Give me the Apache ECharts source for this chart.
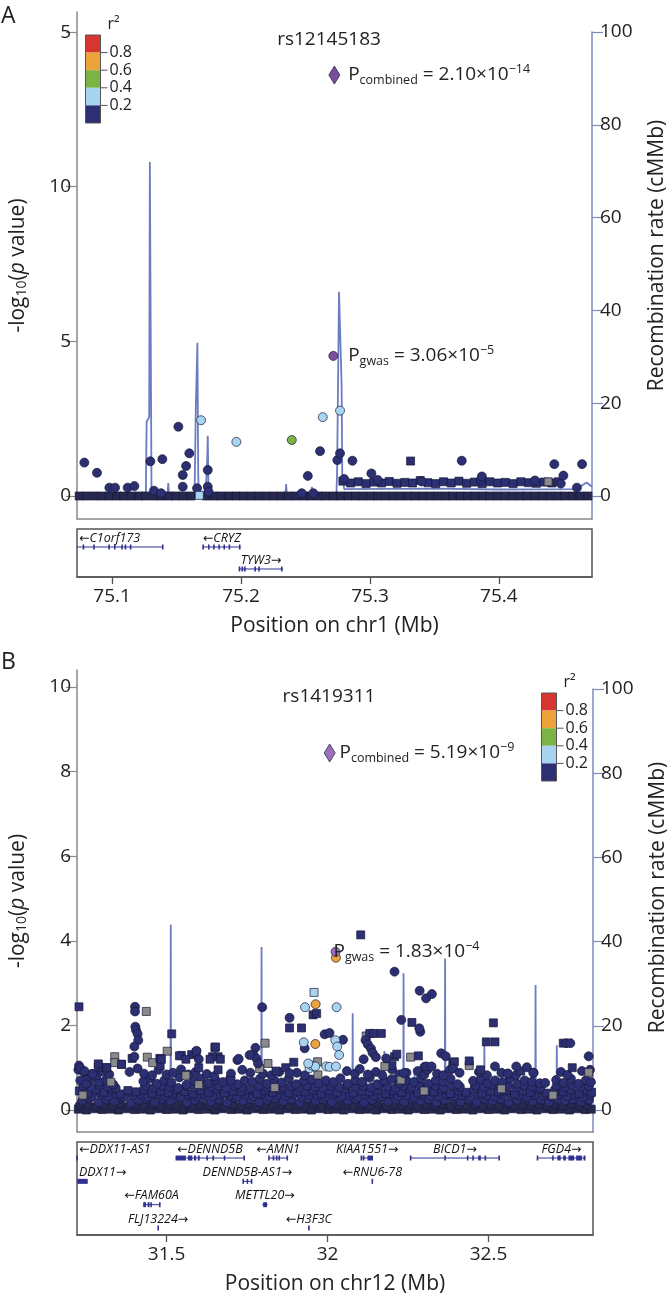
<!DOCTYPE html>
<html><head><meta charset="utf-8">
<script src="https://cdn.jsdelivr.net/npm/echarts@6/dist/echarts.min.js"></script>
<style>html,body{margin:0;padding:0;background:#fff}#c{width:667px;height:1297px}</style>
</head><body><div id="c"></div>
<script>
// ================= DATA =================
// ---- Panel A (chr1) ----
const xRangeA = [75.0728, 75.4722];
const xTicksA = [75.1, 75.2, 75.3, 75.4];
const yTicksA = [0, 5, 10, 15];
const yTickLabelsA = ['0', '5', '10', '5'];
const recTicks = [0, 20, 40, 60, 80, 100];
const aRecX = [75.0728,75.1262,75.1268,75.1288,75.1293,75.1300,75.1306,75.1430,75.1436,75.1442,75.1640,75.1650,75.1662,75.1668,75.1672,75.1725,75.1738,75.1742,75.1748,75.2345,75.2350,75.2355,75.2545,75.2550,75.2555,75.2740,75.2745,75.2760,75.2772,75.2780,75.2785,75.2800,75.3500,75.4000,75.4600,75.4680,75.4722];
const aRecY = [0.2,0.2,16,17,72,72,0.3,0.3,2.8,0.3,0.3,20,33,5,0.3,0.3,8,13,0.3,0.3,2.6,0.3,0.3,2,0.3,0.3,5,44,44.4,24,5,1.5,1.6,1.4,1.5,2.9,2];
const aRow0X = [75.0745,75.0800,75.0862,75.0918,75.0975,75.1035,75.1090,75.1150,75.1208,75.1262,75.1325,75.1380,75.1440,75.1495,75.1552,75.1612,75.1730,75.1790,75.1845,75.1905,75.1962,75.2020,75.2078,75.2135,75.2195,75.2252,75.2310,75.2368,75.2425,75.2485,75.2540,75.2600,75.2655,75.2715,75.2772,75.2830,75.2888,75.2945,75.3005,75.3060,75.3120,75.3178,75.3235,75.3295,75.3350,75.3410,75.3468,75.3525,75.3585,75.3640,75.3700,75.3758,75.3815,75.3875,75.3930,75.3990,75.4048,75.4105,75.4165,75.4220,75.4280,75.4338,75.4395,75.4455,75.4510,75.4570,75.4630,75.4690];
const aRow1Squares = [[75.2790,0.48],[75.2850,0.42],[75.2910,0.46],[75.2970,0.40],[75.3030,0.45],[75.3090,0.42],[75.3150,0.47],[75.3210,0.41],[75.3270,0.44],[75.3330,0.42],[75.3390,0.50],[75.3450,0.43],[75.3510,0.40],[75.3570,0.46],[75.3630,0.42],[75.3690,0.48],[75.3750,0.41],[75.3810,0.45],[75.3870,0.40],[75.3930,0.46],[75.3990,0.42],[75.4050,0.44],[75.4110,0.40],[75.4170,0.46],[75.4230,0.43],[75.4290,0.41],[75.4350,0.45],[75.4410,0.42],[75.4460,0.46]];
const aRow1Circles = [[75.2800,0.55],[75.3060,0.52],[75.3400,0.47],[75.3860,0.52],[75.4280,0.50],[75.4480,0.40]];
const aNavyCircles = [[75.0785,1.08],[75.0883,0.75],[75.0979,0.27],[75.1023,0.27],[75.1121,0.27],[75.1173,0.32],[75.1297,1.12],[75.1325,0.17],[75.1390,1.19],[75.1380,0.09],[75.1514,2.24],[75.1599,1.38],[75.1574,0.97],[75.1548,0.68],[75.1548,0.30],[75.1659,0.25],[75.1742,0.84],[75.1742,0.30],[75.1748,0.14],[75.2471,0.09],[75.2561,0.09],[75.2518,0.65],[75.2613,1.45],[75.2747,1.16],[75.2768,1.38],[75.2864,1.14],[75.3011,0.73],[75.3712,1.14],[75.3868,0.63],[75.4430,1.03],[75.4500,0.66],[75.4645,1.03],[75.4605,0.27]];
const aNavySquares = [[75.3315,1.13]];
const aGraySquares = [[75.4382,0.46]];
const aLightBlueCircles = [[75.1690,2.45],[75.1964,1.75],[75.2634,2.55],[75.2768,2.76]];
const aLightBlueSquares = [[75.1677,0.02]];
const aGreen = [[75.2394,1.81]];
const aLead = [[75.2716,4.53]];
const aCombined = [[75.2724,13.61]];
const geneNamesA = ['C1orf173','CRYZ','TYW3'];
const geneStrandA = [-1,-1,1];
const geneStartA = [75.05,75.1706,75.1985];
const geneEndA = [75.1395,75.1996,75.2326];
const geneRowA = [0,0,1];
const geneExonsA = [
  [[75.0778,75.0778],[75.0860,75.0860],[75.0977,75.0977],[75.1021,75.1021],[75.1077,75.1077],[75.1104,75.1104],[75.1144,75.1144],[75.1393,75.1393]],
  [[75.1706,75.1716],[75.1750,75.1750],[75.1790,75.1790],[75.1830,75.1830],[75.1870,75.1870],[75.1910,75.1910],[75.1990,75.1990]],
  [[75.1988,75.1988],[75.2010,75.2010],[75.2030,75.2030],[75.2110,75.2110],[75.2140,75.2140],[75.2316,75.2326]]
];

// ---- Panel B (chr12) ----
const xRangeB = [31.2218, 32.8244];
const xTicksB = [31.5, 32, 32.5];
const yTicksB = [0, 2, 4, 6, 8, 10];
const bRecX = [31.2218,31.5120,31.5130,31.5140,31.7940,31.7950,31.7960,32.0770,32.0780,32.0790,32.1755,32.1765,32.1775,32.2350,32.2360,32.2370,32.2692,32.2702,32.2712,32.3640,32.3650,32.3660,32.4860,32.4870,32.4880,32.6450,32.6460,32.6470,32.6630,32.6640,32.6650,32.7110,32.7120,32.7130,32.8244];
const bRecY = [0.3,0.3,44,0.3,0.3,38.7,0.3,0.3,23,0.3,0.3,14,0.3,0.3,32.5,0.3,0.3,10,0.3,0.3,36,0.3,0.3,16,0.3,0.3,29.7,0.3,0.3,7,0.3,0.3,15.4,0.3,0.3];
const bRow0 = [[31.226,0.02],[31.251,0.00],[31.276,0.03],[31.300,0.01],[31.326,0.02],[31.350,0.00],[31.375,0.03],[31.401,0.01],[31.425,0.02],[31.450,0.00],[31.476,0.03],[31.500,0.01],[31.525,0.02],[31.551,0.00],[31.575,0.03],[31.600,0.01],[31.626,0.02],[31.650,0.00],[31.675,0.03],[31.701,0.01],[31.725,0.02],[31.750,0.00],[31.776,0.03],[31.800,0.01],[31.825,0.02],[31.851,0.00],[31.875,0.03],[31.900,0.01],[31.926,0.02],[31.950,0.00],[31.975,0.03],[32.001,0.01],[32.025,0.02],[32.050,0.00],[32.076,0.03],[32.100,0.01],[32.125,0.02],[32.151,0.00],[32.175,0.03],[32.200,0.01],[32.226,0.02],[32.250,0.00],[32.275,0.03],[32.301,0.01],[32.325,0.02],[32.350,0.00],[32.376,0.03],[32.400,0.01],[32.425,0.02],[32.451,0.00],[32.475,0.03],[32.500,0.01],[32.526,0.02],[32.550,0.00],[32.575,0.03],[32.601,0.01],[32.625,0.02],[32.650,0.00],[32.676,0.03],[32.700,0.01],[32.725,0.02],[32.751,0.00],[32.775,0.03],[32.800,0.01],[32.819,0.02]];
const bRow1 = [[31.238,0.22],[31.262,0.28],[31.289,0.18],[31.313,0.25],[31.338,0.21],[31.362,0.29],[31.389,0.17],[31.413,0.24],[31.437,0.27],[31.463,0.19],[31.488,0.26],[31.512,0.22],[31.538,0.29],[31.563,0.18],[31.588,0.24],[31.612,0.27],[31.638,0.20],[31.663,0.25],[31.688,0.18],[31.713,0.28],[31.738,0.22],[31.763,0.26],[31.788,0.19],[31.813,0.24],[31.838,0.28],[31.863,0.21],[31.888,0.25],[31.913,0.18],[31.938,0.27],[31.963,0.22],[31.988,0.25],[32.013,0.19],[32.038,0.28],[32.063,0.22],[32.088,0.26],[32.113,0.18],[32.138,0.24],[32.163,0.28],[32.188,0.21],[32.213,0.25],[32.238,0.19],[32.263,0.27],[32.288,0.22],[32.313,0.26],[32.338,0.18],[32.363,0.24],[32.388,0.28],[32.413,0.20],[32.438,0.25],[32.463,0.19],[32.488,0.27],[32.513,0.22],[32.538,0.26],[32.563,0.18],[32.588,0.24],[32.613,0.28],[32.638,0.21],[32.663,0.25],[32.688,0.19],[32.713,0.27],[32.738,0.22],[32.763,0.26],[32.788,0.20],[32.812,0.24]];
const bRow1b = [[31.230,0.11],[31.256,0.13],[31.281,0.09],[31.306,0.12],[31.332,0.10],[31.356,0.14],[31.381,0.09],[31.407,0.12],[31.431,0.11],[31.457,0.13],[31.482,0.09],[31.506,0.12],[31.531,0.10],[31.557,0.14],[31.582,0.09],[31.606,0.12],[31.632,0.11],[31.656,0.13],[31.681,0.09],[31.707,0.12],[31.732,0.10],[31.756,0.14],[31.782,0.09],[31.806,0.12],[31.831,0.11],[31.857,0.13],[31.882,0.09],[31.906,0.12],[31.932,0.10],[31.956,0.14],[31.981,0.09],[32.007,0.12],[32.032,0.11],[32.056,0.13],[32.082,0.09],[32.106,0.12],[32.131,0.10],[32.157,0.14],[32.182,0.09],[32.206,0.12],[32.232,0.11],[32.256,0.13],[32.281,0.09],[32.307,0.12],[32.332,0.10],[32.356,0.14],[32.382,0.09],[32.406,0.12],[32.431,0.11],[32.457,0.13],[32.482,0.09],[32.506,0.12],[32.532,0.10],[32.556,0.14],[32.581,0.09],[32.607,0.12],[32.632,0.11],[32.656,0.13],[32.682,0.09],[32.706,0.12],[32.731,0.10],[32.756,0.14],[32.781,0.09],[32.806,0.12]];
const bRowMid = [[31.244,0.35],[31.268,0.32],[31.295,0.37],[31.319,0.33],[31.344,0.36],[31.368,0.31],[31.395,0.35],[31.419,0.37],[31.443,0.32],[31.469,0.36],[31.494,0.33],[31.518,0.37],[31.544,0.31],[31.569,0.35],[31.594,0.33],[31.618,0.37],[31.644,0.32],[31.669,0.36],[31.694,0.34],[31.719,0.31],[31.744,0.36],[31.769,0.33],[31.794,0.37],[31.819,0.32],[31.844,0.35],[31.869,0.33],[31.894,0.37],[31.919,0.31],[31.944,0.36],[31.969,0.34],[31.994,0.32],[32.019,0.37],[32.044,0.33],[32.069,0.35],[32.094,0.31],[32.119,0.36],[32.144,0.34],[32.169,0.32],[32.194,0.37],[32.219,0.33],[32.244,0.35],[32.269,0.31],[32.294,0.36],[32.319,0.34],[32.344,0.32],[32.369,0.37],[32.394,0.33],[32.419,0.35],[32.444,0.31],[32.469,0.36],[32.494,0.34],[32.519,0.32],[32.544,0.37],[32.569,0.33],[32.594,0.35],[32.619,0.31],[32.644,0.36],[32.669,0.34],[32.694,0.32],[32.719,0.37],[32.744,0.33],[32.769,0.35],[32.794,0.31],[32.816,0.36]];
const bRow2 = [[31.229,0.45],[31.255,0.40],[31.281,0.48],[31.305,0.42],[31.331,0.50],[31.356,0.38],[31.380,0.46],[31.406,0.43],[31.431,0.49],[31.455,0.39],[31.481,0.45],[31.506,0.41],[31.530,0.48],[31.556,0.44],[31.581,0.38],[31.605,0.47],[31.631,0.42],[31.656,0.50],[31.680,0.40],[31.706,0.45],[31.731,0.43],[31.755,0.48],[31.781,0.39],[31.806,0.46],[31.830,0.42],[31.856,0.49],[31.880,0.40],[31.906,0.45],[31.931,0.43],[31.955,0.47],[31.981,0.38],[32.006,0.46],[32.030,0.42],[32.056,0.50],[32.080,0.40],[32.106,0.45],[32.131,0.43],[32.155,0.48],[32.181,0.39],[32.206,0.46],[32.230,0.42],[32.256,0.49],[32.280,0.40],[32.306,0.45],[32.331,0.43],[32.355,0.48],[32.381,0.39],[32.406,0.46],[32.430,0.42],[32.456,0.50],[32.480,0.40],[32.506,0.45],[32.531,0.43],[32.555,0.47],[32.581,0.38],[32.606,0.46],[32.630,0.42],[32.656,0.49],[32.680,0.40],[32.706,0.45],[32.731,0.43],[32.755,0.48],[32.781,0.39],[32.806,0.46],[32.820,0.42]];
const bRowHigh = [[31.241,0.57],[31.266,0.54],[31.292,0.59],[31.317,0.55],[31.342,0.52],[31.436,0.57],[31.461,0.53],[31.486,0.58],[31.511,0.55],[31.536,0.52],[31.561,0.57],[31.586,0.54],[31.611,0.59],[31.636,0.55],[31.661,0.57],[31.686,0.53],[31.711,0.58],[31.736,0.55],[31.761,0.52],[31.786,0.57],[31.811,0.54],[31.836,0.59],[31.861,0.55],[31.886,0.57],[31.911,0.53],[31.936,0.58],[31.961,0.55],[31.986,0.52],[32.011,0.57],[32.036,0.54],[32.061,0.59],[32.086,0.55],[32.111,0.57],[32.136,0.53],[32.161,0.58],[32.186,0.55],[32.211,0.52],[32.236,0.57],[32.261,0.54],[32.286,0.59],[32.311,0.55],[32.336,0.57],[32.361,0.53],[32.386,0.58],[32.411,0.55],[32.461,0.57],[32.486,0.54],[32.511,0.59],[32.536,0.55],[32.561,0.57],[32.586,0.53],[32.611,0.58],[32.636,0.55],[32.661,0.52],[32.711,0.57],[32.736,0.54],[32.761,0.59],[32.786,0.55],[32.811,0.57]];
const bRow3 = [[31.232,0.70],[31.250,0.62],[31.268,0.75],[31.290,0.66],[31.312,0.72],[31.335,0.60],[31.428,0.68],[31.450,0.75],[31.470,0.62],[31.493,0.70],[31.515,0.65],[31.540,0.77],[31.562,0.60],[31.585,0.69],[31.607,0.74],[31.630,0.63],[31.652,0.71],[31.675,0.66],[31.698,0.76],[31.720,0.61],[31.743,0.70],[31.766,0.67],[31.790,0.74],[31.812,0.62],[31.835,0.70],[31.858,0.65],[31.880,0.75],[31.903,0.61],[31.926,0.69],[31.950,0.72],[31.972,0.63],[31.995,0.70],[32.018,0.66],[32.040,0.75],[32.063,0.62],[32.086,0.70],[32.108,0.67],[32.131,0.76],[32.154,0.61],[32.176,0.69],[32.199,0.73],[32.222,0.63],[32.245,0.70],[32.268,0.66],[32.290,0.75],[32.313,0.62],[32.336,0.70],[32.359,0.67],[32.382,0.74],[32.404,0.61],[32.452,0.69],[32.475,0.72],[32.497,0.63],[32.520,0.70],[32.543,0.66],[32.566,0.75],[32.589,0.62],[32.612,0.70],[32.635,0.67],[32.710,0.71],[32.733,0.64],[32.756,0.74],[32.779,0.62],[32.802,0.70],[32.818,0.66]];
const bRow4Circles = [[31.226,0.95],[31.245,0.88],[31.258,0.80],[31.268,0.85],[31.283,0.82],[31.300,0.92],[31.322,0.84],[31.385,0.90],[31.410,0.98],[31.430,0.86],[31.455,0.82],[31.475,0.95],[31.500,0.84],[31.520,0.88],[31.545,0.96],[31.568,0.84],[31.590,0.90],[31.625,0.85],[31.648,0.80],[31.700,0.86],[31.735,0.95],[31.760,0.88],[31.800,0.86],[31.825,0.82],[31.850,0.90],[31.905,0.88],[31.930,0.82],[32.060,0.92],[32.085,0.86],[32.100,0.97],[32.125,0.84],[32.150,0.90],[32.170,0.82],[32.200,0.96],[32.222,0.84],[32.245,0.88],[32.280,0.92],[32.300,0.83],[32.340,0.86],[32.360,0.82],[32.380,0.95],[32.470,0.90],[32.495,0.82],[32.540,0.88],[32.560,0.86],[32.585,0.82],[32.640,0.88],[32.725,0.90],[32.745,0.83],[32.790,0.92],[32.815,0.95]];
const bRow4Squares = [[31.288,1.02],[31.314,1.00],[31.360,1.08],[31.480,1.05],[31.600,1.00],[31.660,0.95],[31.840,0.92],[31.870,1.00],[32.200,1.05],[32.475,0.95],[32.600,0.92],[32.760,1.00]];
const bNavyCircles = [[31.228,1.05],[31.402,2.44],[31.402,2.33],[31.403,1.97],[31.405,1.89],[31.410,1.80],[31.412,1.65],[31.400,1.50],[31.400,1.26],[31.797,2.43],[31.882,2.18],[31.991,1.79],[32.006,1.82],[32.048,1.66],[31.929,1.46],[31.720,1.18],[31.776,1.47],[31.770,1.30],[31.779,1.22],[31.784,1.10],[31.593,1.40],[31.600,1.20],[31.758,1.30],[31.882,0.87],[32.208,3.27],[32.229,2.13],[32.286,2.82],[32.306,2.64],[32.324,2.74],[32.288,1.85],[32.285,1.93],[32.118,1.65],[32.125,1.55],[32.135,1.45],[32.140,1.35],[32.150,1.25],[32.112,1.20],[32.182,1.22],[32.353,1.34],[32.367,1.27],[32.301,1.02],[32.310,0.95],[32.237,0.87],[32.520,1.03],[32.586,1.03],[32.619,1.01],[32.639,0.88],[32.741,1.58],[32.754,1.58],[32.811,1.27],[32.659,0.63],[32.676,0.64],[32.560,0.86],[32.390,0.98],[32.410,0.88],[32.307,1.03],[32.323,1.03],[31.232,0.99],[31.245,0.92],[31.270,0.85],[31.724,1.21]];
const bNavySquares = [[31.228,2.44],[31.516,1.80],[31.882,1.94],[31.919,1.94],[31.955,2.25],[31.966,2.28],[31.895,1.13],[31.650,1.48],[31.660,1.26],[31.643,1.26],[32.103,4.14],[32.131,1.81],[32.143,1.81],[32.167,1.81],[32.208,1.26],[32.262,2.07],[32.282,1.28],[32.389,1.12],[32.440,1.16],[32.493,1.61],[32.520,1.61],[32.515,2.06],[32.732,1.58],[31.288,1.09],[31.314,1.00],[31.360,1.08],[31.393,1.22],[31.479,1.22],[31.546,1.29],[31.578,1.31],[31.484,1.20],[31.540,1.28],[31.560,1.20],[31.592,1.36],[31.652,1.49],[31.635,1.20],[31.667,1.20],[32.215,1.32],[32.394,1.14],[31.700,0.70]];
const bGraySquares = [[31.437,2.33],[31.339,1.26],[31.339,1.12],[31.440,1.25],[31.457,1.12],[31.502,1.39],[31.560,0.82],[31.789,0.98],[31.806,1.58],[31.815,1.10],[31.836,0.53],[31.969,1.14],[31.970,0.83],[32.120,1.75],[32.178,1.03],[32.258,1.25],[32.228,0.71],[32.440,1.05],[32.811,0.89],[31.327,0.66],[31.240,0.35],[31.600,0.60],[32.300,0.45],[32.540,0.50],[32.700,0.35]];
const bLightBlueCircles = [[31.930,2.43],[32.028,2.43],[31.926,1.60],[32.024,1.65],[32.030,1.50],[32.036,1.30],[31.944,0.99],[31.952,1.05],[31.962,1.03],[31.996,1.03],[32.006,1.02],[32.026,1.03],[31.940,1.10]];
const bLightBlueSquares = [[31.958,2.78]];
const bOrange = [[31.963,2.50],[31.962,1.56],[32.026,3.60]];
const bLead = [[32.025,3.74]];
const bCombined = [[32.0066,8.44]];
const geneNamesB = ['DDX11-AS1','DENND5B','AMN1','KIAA1551','BICD1','FGD4','DDX11','DENND5B-AS1','RNU6-78','FAM60A','METTL20','FLJ13224','H3F3C'];
const geneStrandB = [-1,-1,-1,1,1,1,1,1,-1,-1,1,1,-1];
const geneStartB = [31.2220,31.528,31.818,32.105,32.258,32.652,31.2218,31.738,32.1388,31.4275,31.797,31.4738,31.9418];
const geneEndB = [31.2232,31.741,31.875,32.141,32.533,32.801,31.255,31.764,32.1392,31.479,31.814,31.4742,31.9422];
const geneRowB = [0,0,0,0,0,0,1,1,1,2,2,3,3];
const geneExonsB = [
  [[31.2221,31.2221]],
  [[31.528,31.560],[31.566,31.580],[31.585,31.592],[31.597,31.603],[31.626,31.626],[31.645,31.645],[31.680,31.680],[31.741,31.741]],
  [[31.818,31.818],[31.832,31.836],[31.842,31.846],[31.850,31.852],[31.875,31.875]],
  [[32.105,32.105],[32.112,32.112],[32.124,32.141]],
  [[32.258,32.258],[32.365,32.365],[32.435,32.435],[32.452,32.452],[32.468,32.476],[32.490,32.490],[32.533,32.533]],
  [[32.652,32.652],[32.700,32.700],[32.714,32.724],[32.732,32.740],[32.748,32.766],[32.772,32.790],[32.795,32.801]],
  [[31.2227,31.255]],
  [[31.738,31.738],[31.751,31.751],[31.764,31.764]],
  [[32.1390,32.1390]],
  [[31.4275,31.436],[31.441,31.447],[31.452,31.452],[31.479,31.479]],
  [[31.800,31.812]],
  [[31.4740,31.4740]],
  [[31.9420,31.9420]]
];

// ================= STYLE =================
const FONT = "'Open Sans', 'Noto Sans', 'DejaVu Sans', sans-serif";
const TXT = '#222';
const NAVY = '#2c2f72', NAVY_DARK = '#26284f', BORDER = '#17183a';
const LBLUE = '#a9d4f1', GREEN = '#7bb444', ORANGE = '#eba43c', RED = '#d6362f';
const PURPLE = '#7b4d9d', PURPLE_B = '#9b70b8', GRAY = '#8a8a8a';
const REC = '#6b7cc2', RAXIS = '#7e8abb', LAXIS = '#8a8a8a', GENE = '#2e3192';
const legendColors = [RED, ORANGE, GREEN, LBLUE, NAVY];
const legendLabels = ['0.8', '0.6', '0.4', '0.2'];

const mctx = document.createElement('canvas').getContext('2d');
function measure(t, font) { mctx.font = font; return mctx.measureText(t).width; }

function pts(data, symbol, color, size, xi, yi, z, extra) {
  return Object.assign({
    type: 'scatter', xAxisIndex: xi, yAxisIndex: yi, data: data, symbol: symbol,
    symbolSize: size, z: z || 3, silent: true, animation: false,
    itemStyle: { color: color, borderColor: BORDER, borderWidth: 0.7, opacity: 1 }
  }, extra || {});
}
function recLine(xs, ys, xi, yi) {
  return { type: 'line', xAxisIndex: xi, yAxisIndex: yi, data: xs.map((x, i) => [x, ys[i]]),
    showSymbol: false, silent: true, z: 1, animation: false,
    lineStyle: { color: REC, width: 1.8 } };
}
const richP = {
  p: { fontSize: 19, fontFamily: FONT, color: TXT, lineHeight: 24 },
  t: { fontSize: 19, fontFamily: FONT, color: TXT, lineHeight: 24 },
  sub: { fontSize: 12.5, fontFamily: FONT, color: TXT, lineHeight: 14, verticalAlign: 'bottom' },
  sup: { fontSize: 12.5, fontFamily: FONT, color: TXT, lineHeight: 14, verticalAlign: 'top' }
};
function labelled(data, color, symbol, size, xi, yi, text, dist) {
  return pts(data, symbol, color, size, xi, yi, 6, {
    label: { show: true, position: 'right', distance: dist, formatter: text, rich: richP }
  });
}
function geneSeries(names, strands, starts, ends, rows, exons, xi, yi) {
  const font = 'italic 12.5px ' + FONT;
  return {
    type: 'custom', xAxisIndex: xi, yAxisIndex: yi, silent: true, z: 5, animation: false,
    data: names.map((n, i) => [starts[i], ends[i], rows[i], i]),
    encode: { x: [0, 1], y: 2 }, clip: false,
    renderItem: function (params, api) {
      const i = api.value(3), r = api.value(2);
      const cs = params.coordSys;
      const a = api.coord([api.value(0), r]), b = api.coord([api.value(1), r]);
      const y = a[1];
      const x0 = Math.max(a[0], cs.x), x1 = Math.min(b[0], cs.x + cs.width);
      const kids = [{ type: 'line', shape: { x1: x0, y1: y, x2: Math.max(x1, x0 + 0.5), y2: y },
        style: { stroke: GENE, lineWidth: 1 } }];
      exons[i].forEach(function (e) {
        const p = Math.max(api.coord([e[0], r])[0], cs.x), q = Math.min(api.coord([e[1], r])[0], cs.x + cs.width);
        const w = q - p < 1.6 ? 1.6 : q - p;
        const px = q - p < 1.6 ? p - 0.8 : p;
        kids.push({ type: 'rect', shape: { x: px, y: y - 2.5, width: w, height: 5 }, style: { fill: GENE } });
      });
      const label = strands[i] < 0 ? '\u2190' + names[i] : names[i] + '\u2192';
      const tw = measure(label, font);
      let cx = (a[0] + b[0]) / 2;
      cx = Math.max(cx, cs.x + tw / 2 + 2);
      cx = Math.min(cx, cs.x + cs.width - tw / 2 - 2);
      kids.push({ type: 'text', style: { x: cx, y: y - 9, text: label, align: 'center', verticalAlign: 'middle', font: font, fill: '#111' } });
      return { type: 'group', children: kids };
    }
  };
}
function legendGraphic(x, y, w, h) {
  const els = [];
  legendColors.forEach(function (c, i) {
    els.push({ type: 'rect', shape: { x: x, y: y + i * h, width: w, height: h }, style: { fill: c }, z: 10 });
  });
  els.push({ type: 'rect', shape: { x: x, y: y, width: w, height: h * 5 }, style: { fill: 'none', stroke: '#555', lineWidth: 1 }, z: 11 });
  legendLabels.forEach(function (t, i) {
    const yy = y + (i + 1) * h;
    els.push({ type: 'line', shape: { x1: x + w, y1: yy, x2: x + w + 7, y2: yy }, style: { stroke: '#555', lineWidth: 1 }, z: 11 });
    els.push({ type: 'text', style: { x: x + w + 9, y: yy, text: t, align: 'left', verticalAlign: 'middle', font: '16px ' + FONT, fill: TXT }, z: 11 });
  });
  els.push({ type: 'text', style: { x: x + w + 13, y: y - 11, text: 'r\u00b2', align: 'center', verticalAlign: 'middle', font: '16px ' + FONT, fill: TXT }, z: 11 });
  return els;
}

const baseTick = { fontFamily: FONT, fontSize: 19, color: TXT };
function leftY(gi, min, max, ticks, fmt, nameGap) {
  return { gridIndex: gi, type: 'value', position: 'left', min: min, max: max,
    axisLine: { show: true, onZero: false, lineStyle: { color: LAXIS, width: 1.5 } },
    axisTick: { show: true, length: 11, customValues: ticks, lineStyle: { color: LAXIS, width: 1.2 } },
    axisLabel: Object.assign({ show: true, customValues: ticks, margin: 6, formatter: fmt }, baseTick),
    splitLine: { show: false },
    name: '-log{sub|10}({it|p} value)', nameLocation: 'middle', nameRotate: 90, nameGap: nameGap,
    nameTextStyle: { fontFamily: FONT, fontSize: 21, color: TXT,
      rich: { sub: { fontFamily: FONT, fontSize: 14, color: TXT, verticalAlign: 'bottom', lineHeight: 16 },
              it: { fontFamily: FONT, fontSize: 21, color: TXT, fontStyle: 'italic' } } } };
}
function rightY(gi, min, shift) {
  return { gridIndex: gi, type: 'value', position: 'right', min: min, max: 100,
    axisLine: { show: true, onZero: false, lineStyle: { color: RAXIS, width: 1.5 } },
    axisTick: { show: true, length: 11, customValues: recTicks, lineStyle: { color: RAXIS, width: 1.2 } },
    axisLabel: Object.assign({ show: true, customValues: recTicks, margin: 8 }, baseTick),
    splitLine: { show: false },
    name: 'Recombination rate (cMMb)', nameLocation: 'middle', nameRotate: 90, nameGap: 55,
    nameTextStyle: { fontFamily: FONT, fontSize: 21, color: TXT, padding: [0, 0, 0, shift] } };
}
function hiddenX(gi, r) { return { gridIndex: gi, type: 'value', min: r[0], max: r[1], show: false }; }
function frameX(gi, r) {
  return { gridIndex: gi, type: 'value', min: r[0], max: r[1], position: 'bottom',
    axisLine: { show: true, onZero: false, lineStyle: { color: LAXIS, width: 1.5 } },
    axisTick: { show: false }, axisLabel: { show: false }, splitLine: { show: false } };
}
function geneX(gi, r, ticks, name) {
  return { gridIndex: gi, type: 'value', min: r[0], max: r[1], position: 'bottom',
    axisLine: { show: true, onZero: false, lineStyle: { color: '#555', width: 1.5 } },
    axisTick: { show: true, inside: false, length: 7, customValues: ticks, lineStyle: { color: '#555', width: 1.3 } },
    axisLabel: Object.assign({ show: true, customValues: ticks, margin: 10 }, baseTick),
    splitLine: { show: false },
    name: name, nameLocation: 'middle', nameGap: 39,
    nameTextStyle: { fontFamily: FONT, fontSize: 21, color: TXT } };
}
function geneY(gi, min, max) { return { gridIndex: gi, type: 'value', min: min, max: max, inverse: true, show: false }; }
function grid(top, height, width, framed) {
  const g = { left: 77, top: top, width: width, height: height, outerBoundsMode: 'none', containLabel: false };
  if (framed) { g.show = true; g.borderColor = '#555'; g.borderWidth = 1.5; g.backgroundColor = 'transparent'; }
  return g;
}

const option = {
  backgroundColor: '#fff',
  animation: false,
  grid: [
    grid(12, 507, 515, false),
    grid(32, 487, 515, false),
    grid(529, 48, 515, true),
    grid(670, 462, 516, false),
    grid(689, 443, 516, false),
    grid(1142, 93, 516, true)
  ],
  xAxis: [
    frameX(0, xRangeA), hiddenX(1, xRangeA), geneX(2, xRangeA, xTicksA, 'Position on chr1 (Mb)'),
    frameX(3, xRangeB), hiddenX(4, xRangeB), geneX(5, xRangeB, xTicksB, 'Position on chr12 (Mb)')
  ],
  yAxis: [
    leftY(0, -0.744, 15.65, yTicksA, function (v) { return yTickLabelsA[yTicksA.indexOf(v)]; }, 48),
    rightY(1, -4.957, 40),
    geneY(2, -0.818, 1.364),
    leftY(3, -0.52, 10.402, yTicksB, function (v) { return String(v); }, 48),
    rightY(4, -5.23, 26),
    geneY(5, -0.687, 3.30)
  ],
  graphic: [].concat(
    [
      { type: 'text', style: { x: 1, y: 16, text: 'A', align: 'left', verticalAlign: 'middle', font: '23px ' + FONT, fill: TXT } },
      { type: 'text', style: { x: 1, y: 662, text: 'B', align: 'left', verticalAlign: 'middle', font: '23px ' + FONT, fill: TXT } },
      { type: 'text', style: { x: 329, y: 40, text: 'rs12145183', align: 'center', verticalAlign: 'middle', font: '19px ' + FONT, fill: TXT } },
      { type: 'text', style: { x: 329, y: 697, text: 'rs1419311', align: 'center', verticalAlign: 'middle', font: '19px ' + FONT, fill: TXT } }
    ],
    legendGraphic(85.5, 35, 15, 17.6),
    legendGraphic(541.5, 693, 15, 17.6)
  ),
  series: [
    // ---- Panel A ----
    recLine(aRecX, aRecY, 1, 1),
    pts(aRow0X.map(function (x) { return [x, 0]; }), 'rect', NAVY_DARK, 8, 0, 0, 2),
    pts(aRow1Squares, 'rect', NAVY, 8, 0, 0, 3),
    pts(aRow1Circles, 'circle', NAVY, 9, 0, 0, 3),
    pts(aNavyCircles, 'circle', NAVY, 9, 0, 0, 3),
    pts(aNavySquares, 'rect', NAVY, 8, 0, 0, 3),
    pts(aGraySquares, 'rect', GRAY, 8, 0, 0, 4),
    pts(aLightBlueCircles, 'circle', LBLUE, 9, 0, 0, 4),
    pts(aLightBlueSquares, 'rect', LBLUE, 8, 0, 0, 4),
    pts(aGreen, 'circle', GREEN, 9, 0, 0, 4),
    labelled(aLead, PURPLE, 'circle', 9, 0, 0, '{p|P}{sub|gwas}{t| = 3.06\u00d710}{sup|\u22125}', 10),
    labelled(aCombined, PURPLE, 'diamond', [11, 18], 0, 0, '{p|P}{sub|combined}{t| = 2.10\u00d710}{sup|\u221214}', 8),
    geneSeries(geneNamesA, geneStrandA, geneStartA, geneEndA, geneRowA, geneExonsA, 2, 2),
    // ---- Panel B ----
    recLine(bRecX, bRecY, 4, 4),
    pts(bRow0, 'rect', NAVY_DARK, 8, 3, 3, 2),
    pts(bRow1b, 'circle', NAVY_DARK, 9, 3, 3, 2),
    pts(bRow1, 'circle', NAVY, 9, 3, 3, 2),
    pts(bRowMid, 'circle', NAVY, 9, 3, 3, 2),
    pts(bRow2, 'rect', NAVY, 8, 3, 3, 2),
    pts(bRowHigh, 'circle', NAVY, 9, 3, 3, 2),
    pts(bRow3, 'circle', NAVY, 9, 3, 3, 2),
    pts(bRow4Circles, 'circle', NAVY, 9, 3, 3, 2),
    pts(bRow4Squares, 'rect', NAVY, 8, 3, 3, 2),
    pts(bGraySquares, 'rect', GRAY, 8, 3, 3, 3),
    pts(bNavySquares, 'rect', NAVY, 8, 3, 3, 3),
    pts(bNavyCircles, 'circle', NAVY, 9, 3, 3, 3),
    pts(bLightBlueCircles, 'circle', LBLUE, 9, 3, 3, 4),
    pts(bLightBlueSquares, 'rect', LBLUE, 8, 3, 3, 4),
    pts(bOrange, 'circle', ORANGE, 9, 3, 3, 4),
    labelled(bLead, PURPLE_B, 'circle', 9, 3, 3, '{p|P}{sub|gwas}{t| = 1.83\u00d710}{sup|\u22124}', -7),
    labelled(bCombined, PURPLE_B, 'diamond', [11, 18], 3, 3, '{p|P}{sub|combined}{t| = 5.19\u00d710}{sup|\u22129}', 4),
    geneSeries(geneNamesB, geneStrandB, geneStartB, geneEndB, geneRowB, geneExonsB, 5, 5)
  ]
};
const chart = echarts.init(document.getElementById('c'), null, { renderer: 'canvas' });
chart.setOption(option);
</script></body></html>
